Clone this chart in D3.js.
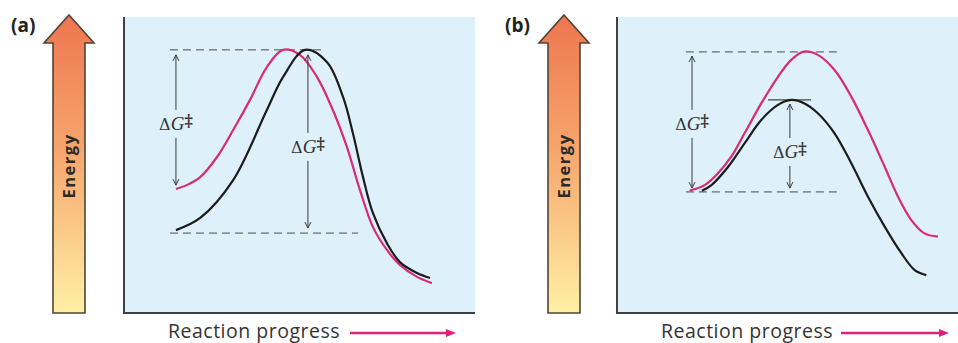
<!DOCTYPE html>
<html><head><meta charset="utf-8">
<script src="https://cdn.jsdelivr.net/npm/d3@7"></script>
<style>
html,body{margin:0;padding:0;background:#fff;}
svg{display:block;}
</style></head>
<body>
<svg id="chart" width="958" height="343"></svg>
<script>
// ---- Data (reaction progress 0-100, energy 0-100) ----
const panelLabels = ["(a)", "(b)"];
const axisYLabel = "Energy";
const axisXLabel = "Reaction progress";

// Panel (a)
const aPinkX = [14.8, 17.9, 21.7, 26.5, 31.1, 35.9, 40.7, 45.3, 50.1, 55.0, 59.5, 63.5, 67.2, 70.9, 74.9, 78.6, 83.5, 87.7];
const aPinkY = [41.9, 43.2, 45.9, 52.7, 61.8, 72.0, 83.1, 88.9, 87.2, 79.7, 68.6, 56.1, 41.6, 29.1, 21.3, 16.2, 12.2, 10.1];
const aBlackX = [14.8, 21.7, 31.1, 40.7, 45.3, 51.6, 57.8, 62.4, 65.2, 68.1, 70.9, 74.9, 78.6, 83.5, 87.2];
const aBlackY = [28.0, 32.1, 44.9, 68.6, 79.7, 88.9, 84.8, 73.0, 60.8, 45.9, 33.8, 23.6, 17.2, 13.5, 11.8];

// Panel (b)
const bPinkX = [21.3, 25.7, 29.6, 33.5, 37.4, 42.3, 47.2, 51.1, 54.8, 58.9, 63.8, 68.7, 73.6, 78.5, 82.4, 86.3, 90.2, 94.1];
const bPinkY = [41.3, 43.2, 47.2, 52.8, 60.7, 70.8, 79.8, 85.5, 88.3, 87.2, 82.1, 73.1, 61.8, 49.4, 39.3, 31.4, 26.9, 25.8];
const bBlackX = [24.9, 27.7, 32.6, 37.4, 42.3, 47.2, 51.1, 55.0, 58.9, 63.8, 68.7, 73.6, 78.5, 83.4, 87.3, 90.7];
const bBlackY = [41.3, 43.2, 49.4, 57.3, 65.2, 70.3, 72.0, 70.8, 67.5, 60.7, 50.6, 39.3, 29.2, 20.2, 14.5, 12.8];

// Annotation levels: reference lines [x1, x2, y]
const aDashes = [[13.1, 57.3, 88.9], [13.1, 66.7, 27.0]];
const bDashes = [[20.2, 65.7, 88.2], [20.2, 65.7, 40.9]];
const bSolid = [[44.3, 56.9, 72.0]];
// Double arrows [x, yTop, yBottom, labelY]
const aArrows = [[14.8, 87.2, 43.2, 63.9], [52.4, 87.2, 28.7, 56.1]];
const bArrows = [[22.0, 86.8, 42.2, 63.9], [50.7, 70.6, 42.2, 54.4]];

// ---- Drawing ----
const svg = d3.select("#chart");
const defs = svg.append("defs");
const grad = defs.append("linearGradient").attr("id", "eg").attr("x1", 0).attr("y1", 0).attr("x2", 0).attr("y2", 1);
grad.append("stop").attr("offset", "0%").attr("stop-color", "#ee7650");
grad.append("stop").attr("offset", "45%").attr("stop-color", "#f6a56c");
grad.append("stop").attr("offset", "100%").attr("stop-color", "#fff0a6");

const PINK = "#d92a72";
const BLACK = "#1c1c1c";
const GRAY = "#3a3a3a";

const panels = [
  {label: panelLabels[0], lx: 11, arrowX: 69, box: [124, 475],
   pink: aPinkX.map((x, i) => [x, aPinkY[i]]), black: aBlackX.map((x, i) => [x, aBlackY[i]]),
   dashes: aDashes, solid: [], arrows: aArrows, textX: 168, progArrow: [350, 456]},
  {label: panelLabels[1], lx: 505, arrowX: 564, box: [617, 958],
   pink: bPinkX.map((x, i) => [x, bPinkY[i]]), black: bBlackX.map((x, i) => [x, bBlackY[i]]),
   dashes: bDashes, solid: bSolid, arrows: bArrows, textX: 661, progArrow: [841, 949]}
];

const plotTop = 17, plotBottom = 313;

panels.forEach(p => {
  const g = svg.append("g");
  const x = d3.scaleLinear().domain([0, 100]).range(p.box);
  const y = d3.scaleLinear().domain([0, 100]).range([plotBottom, plotTop]);

  g.append("text").attr("x", p.lx).attr("y", 32)
    .attr("font-family", "'Open Sans', sans-serif").attr("font-weight", 700)
    .attr("font-size", 19).attr("fill", "#222").text(p.label);

  const ax = p.arrowX, hw = 25, sw = 16, tipY = 15, baseY = 43;
  const arrowPath = `M${ax},${tipY} L${ax + hw},${baseY} L${ax + sw},${baseY} L${ax + sw},${plotBottom} L${ax - sw},${plotBottom} L${ax - sw},${baseY} L${ax - hw},${baseY} Z`;
  g.append("path").attr("d", arrowPath).attr("fill", "url(#eg)")
    .attr("stroke", "#4d4537").attr("stroke-width", 1.6).attr("stroke-linejoin", "miter");
  g.append("text").attr("transform", `translate(${ax + 6},166) rotate(-90)`)
    .attr("text-anchor", "middle").attr("font-family", "'Open Sans', sans-serif")
    .attr("font-weight", 700).attr("font-size", 16.5).attr("letter-spacing", 1.5)
    .attr("fill", "#2a2a2a").text(axisYLabel);

  g.append("rect").attr("x", p.box[0]).attr("y", plotTop).attr("width", p.box[1] - p.box[0])
    .attr("height", plotBottom - plotTop).attr("fill", "#def0fa");
  g.append("path").attr("d", `M${p.box[0]},${plotTop} V${plotBottom} H${p.box[1]}`)
    .attr("fill", "none").attr("stroke", "#3c4246").attr("stroke-width", 2);

  g.selectAll(".dash").data(p.dashes).join("line").attr("class", "dash")
    .attr("x1", d => x(d[0])).attr("x2", d => x(d[1]))
    .attr("y1", d => y(d[2])).attr("y2", d => y(d[2]))
    .attr("stroke", "#4a4a4a").attr("stroke-width", 1).attr("stroke-dasharray", "8,5");
  g.selectAll(".solid").data(p.solid).join("line").attr("class", "solid")
    .attr("x1", d => x(d[0])).attr("x2", d => x(d[1]))
    .attr("y1", d => y(d[2])).attr("y2", d => y(d[2]))
    .attr("stroke", "#444").attr("stroke-width", 1.2);

  const line = d3.line().x(d => x(d[0])).y(d => y(d[1])).curve(d3.curveCatmullRom.alpha(0.5));
  g.append("path").attr("d", line(p.pink)).attr("fill", "none").attr("stroke", PINK).attr("stroke-width", 2.2);
  g.append("path").attr("d", line(p.black)).attr("fill", "none").attr("stroke", BLACK).attr("stroke-width", 2.2);

  p.arrows.forEach(a => {
    const cx = x(a[0]), y1 = y(a[1]), y2 = y(a[2]), ly = y(a[3]);
    const gap = 14;
    g.append("line").attr("x1", cx).attr("x2", cx).attr("y1", y1).attr("y2", ly - gap)
      .attr("stroke", GRAY).attr("stroke-width", 1);
    g.append("line").attr("x1", cx).attr("x2", cx).attr("y1", ly + gap).attr("y2", y2)
      .attr("stroke", GRAY).attr("stroke-width", 1);
    g.append("path").attr("d", `M${cx - 3},${y1 + 6} L${cx},${y1} L${cx + 3},${y1 + 6}`)
      .attr("fill", "none").attr("stroke", GRAY).attr("stroke-width", 1);
    g.append("path").attr("d", `M${cx - 3},${y2 - 6} L${cx},${y2} L${cx + 3},${y2 - 6}`)
      .attr("fill", "none").attr("stroke", GRAY).attr("stroke-width", 1);
    const t = g.append("text").attr("x", cx).attr("y", ly + 6).attr("text-anchor", "middle")
      .attr("font-family", "'DejaVu Serif', serif").attr("font-size", 16).attr("fill", "#333");
    t.append("tspan").text("Δ");
    t.append("tspan").attr("font-style", "italic").attr("font-family", "'Liberation Serif', serif").attr("font-size", 19).text("G");
    t.append("tspan").attr("dy", -4).attr("font-size", 16).attr("font-weight", 700).text("‡");
  });

  g.append("text").attr("x", p.textX).attr("y", 338)
    .attr("font-family", "'Open Sans', sans-serif").attr("font-size", 19.5)
    .attr("letter-spacing", 0.5).attr("fill", "#333")
    .text(axisXLabel);
  const [pa0, pa1] = p.progArrow;
  g.append("line").attr("x1", pa0).attr("x2", pa1 - 8).attr("y1", 333).attr("y2", 333)
    .attr("stroke", "#e0207a").attr("stroke-width", 2.5);
  g.append("path").attr("d", `M${pa1 - 10},329 L${pa1},333 L${pa1 - 10},337 Z`).attr("fill", "#e0207a");
});
</script>
</body></html>
